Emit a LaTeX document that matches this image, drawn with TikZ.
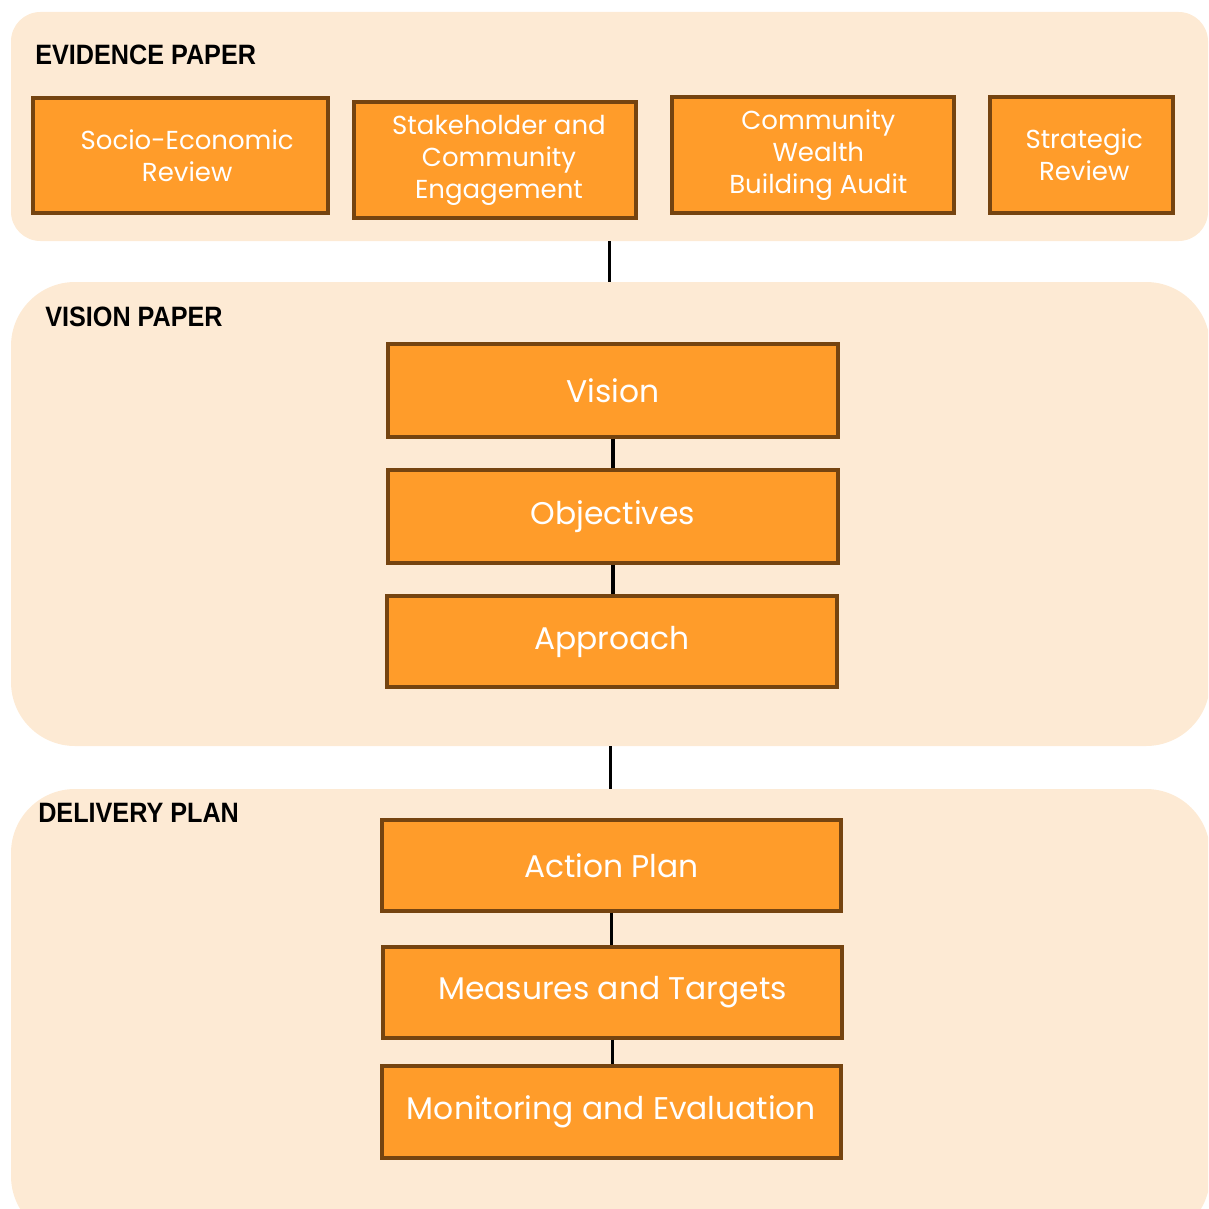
\documentclass[tikz,border=0pt]{standalone}
\usepackage{fontspec}
\setmainfont{Poppins}
\newfontfamily\headfont[FakeStretch=0.9]{Liberation Sans}
\definecolor{panelfill}{HTML}{FDEAD4}
\definecolor{boxfill}{HTML}{FF9C2A}
\definecolor{boxline}{HTML}{754410}
\begin{document}
\begin{tikzpicture}[x=0.75pt,y=-0.75pt,
   panel/.style={fill=panelfill,inner sep=0pt},
   stage/.style={draw=boxline,fill=boxfill,line width=2.6pt,text=white,
      align=center,inner sep=0pt},
   small/.style={font=\fontsize{19.5}{24}\selectfont},
   large/.style={font=\fontsize{23.5}{28}\selectfont},
   head/.style={anchor=base west,inner sep=0pt,font=\headfont\bfseries\fontsize{21}{24}\selectfont},
   link/.style={line width=2.8pt}]
\useasboundingbox (0,0) rectangle (1208,1209);
\clip (0,0) rectangle (1208,1209);
% panels
\node[panel,rounded corners=22pt,minimum width=897.75pt,minimum height=171.75pt] (evid) at (609.5,126.5) {};
\node[panel,rounded corners=48pt,minimum width=899.25pt,minimum height=348pt] (vpanel) at (610.5,514) {};
\node[panel,rounded corners=48pt,minimum width=899.25pt,minimum height=338.25pt] (dpanel) at (610.5,1014.5) {};
\node[head] (evidhead) at (35,65) {EVIDENCE PAPER};
\node[head] (vishead) at (45,326) {VISION PAPER};
\node[head] (delhead) at (38,822) {DELIVERY PLAN};
% evidence paper
\node[stage,small,minimum width=221.25pt,minimum height=86.25pt] (socio) at (180.5,155.5) {\hspace*{10pt}Socio-Economic\\\hspace*{10pt}Review};
\node[stage,small,minimum width=211.5pt,minimum height=87pt] (stake) at (495,160) {\hspace*{6pt}Stakeholder and\\\hspace*{6pt}Community\\\hspace*{6pt}Engagement};
\node[stage,small,minimum width=211.5pt,minimum height=87pt] (cwb) at (813,155) {\hspace*{8pt}Community\\\hspace*{8pt}Wealth\\\hspace*{8pt}Building Audit};
\node[stage,small,minimum width=137.25pt,minimum height=87pt] (strat) at (1081.5,155) {\hspace*{4pt}Strategic\\\hspace*{4pt}Review};
% vision paper
\node[stage,large,minimum width=337.5pt,minimum height=69.75pt] (vision) at (613,390.5) {Vision};
\node[stage,large,minimum width=337.5pt,minimum height=69.75pt] (objectives) at (613,516.5) {Objectives};
\node[stage,large,minimum width=337.5pt,minimum height=68.25pt] (approach) at (612,641.5) {Approach};
% delivery plan
\node[stage,large,minimum width=344.25pt,minimum height=68.25pt] (action) at (611.5,865.5) {Action Plan};
\node[stage,large,minimum width=344.25pt,minimum height=68.25pt] (measures) at (612.5,992.5) {Measures and Targets};
\node[stage,large,minimum width=344.25pt,minimum height=69pt] (monitor) at (611.5,1112) {Monitoring and Evaluation};
% links
\draw[link] (evid.south) -- (evid.south |- vpanel.north);
\draw[link] (vision.south) -- (vision.south |- objectives.north);
\draw[link] (objectives.south) -- (objectives.south |- approach.north);
\draw[link] (vpanel.south) -- (vpanel.south |- dpanel.north);
\draw[link] (action.south) -- (action.south |- measures.north);
\draw[link] (measures.south) -- (measures.south |- monitor.north);
\end{tikzpicture}
\end{document}
